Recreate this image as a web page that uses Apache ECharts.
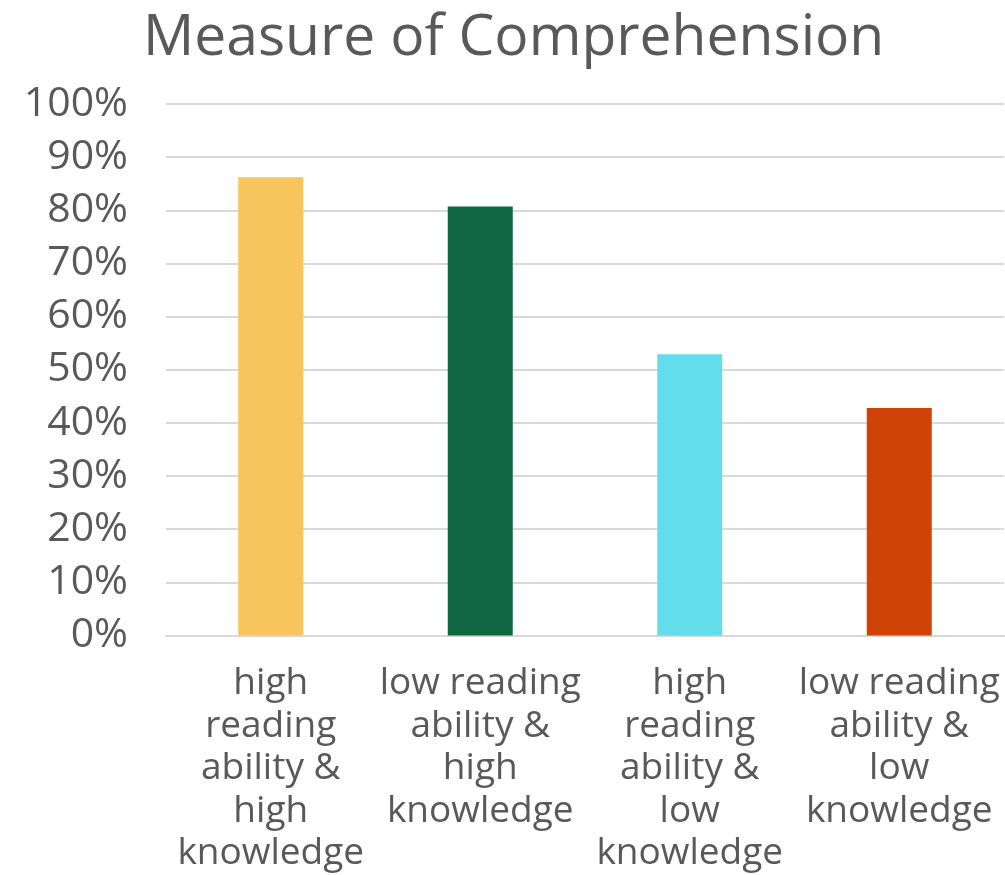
<!DOCTYPE html>
<html>
<head>
<meta charset="utf-8">
<script src="https://cdn.jsdelivr.net/npm/echarts@6/dist/echarts.min.js"></script>
<style>
html,body{margin:0;padding:0;background:#fff;}
#chart{width:1005px;height:875px;}
</style>
</head>
<body>
<div id="chart"></div>
<script>
const categories = [
  "high\nreading\nability &\nhigh\nknowledge",
  "low reading\nability &\nhigh\nknowledge",
  "high\nreading\nability &\nlow\nknowledge",
  "low reading\nability &\nlow\nknowledge"
];
const values = [86.2, 80.7, 52.9, 42.8];
const barColors = ["#F8C45C", "#0F6641", "#61DDEB", "#D04306"];
const yTicks = [0, 10, 20, 30, 40, 50, 60, 70, 80, 90, 100];

const chart = echarts.init(document.getElementById('chart'), null, {renderer: 'canvas'});
const font = '"Open Sans", sans-serif';
chart.setOption({
  animation: false,
  backgroundColor: '#ffffff',
  title: {
    text: 'Measure of Comprehension',
    left: 138,
    top: 5,
    textStyle: {fontFamily: font, fontSize: 57, fontWeight: 'normal', color: '#595959'}
  },
  grid: {left: 166, right: 1, top: 104, bottom: 234.5, containLabel: false},
  xAxis: {
    type: 'category',
    data: categories,
    axisLine: {show: true, lineStyle: {color: '#d9d9d9', width: 2}},
    axisTick: {show: false},
    axisLabel: {
      interval: 0, margin: 27, color: '#595959', fontFamily: font, fontSize: 37,
      lineHeight: 42.5, align: 'center'
    }
  },
  yAxis: {
    type: 'value',
    min: yTicks[0], max: yTicks[yTicks.length - 1], interval: 10,
    axisLine: {show: false},
    axisTick: {show: false},
    splitLine: {lineStyle: {color: '#d9d9d9', width: 2}},
    axisLabel: {
      margin: 38, color: '#595959', fontFamily: font, fontSize: 41,
      formatter: v => v + '%'
    }
  },
  series: [{
    type: 'bar',
    data: values.map((v, i) => ({value: v, itemStyle: {color: barColors[i]}})),
    barWidth: 65
  }]
});
</script>
</body>
</html>
